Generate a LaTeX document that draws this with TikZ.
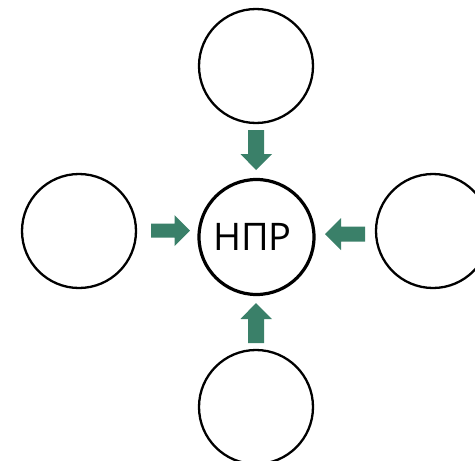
\documentclass[tikz,border=0pt]{standalone}
\usepackage{fontspec}
\setmainfont{Open Sans}
\definecolor{arrgreen}{HTML}{3A8069}
\begin{document}
\begin{tikzpicture}[x=1pt,y=-1pt,
  outer/.style={circle,draw=black,line width=2.3pt,minimum size=114pt,inner sep=0pt},
  centre/.style={circle,draw=black,line width=3.2pt,minimum size=115pt,inner sep=0pt},
  blockarr/.style={fill=arrgreen}]
\useasboundingbox (0,0) rectangle (475,461);
\node[outer] (top) at (256,66) {};
\node[outer] (left) at (79,231) {};
\node[outer] (right) at (433,231) {};
\node[outer] (bottom) at (256,407) {};
\node[centre] (npr) at (256.5,237) {};
\node[font=\fontsize{38}{38}\selectfont,inner sep=0pt] (lbl) at (252.5,237) {НПР};
% top arrow
\fill[blockarr] (248,130) -- (264,130) -- (264,154) -- (272,154) -- (256,170) -- (240.5,154) -- (248,154) -- cycle;
% bottom arrow
\fill[blockarr] (248,343) -- (264,343) -- (264,319) -- (272,319) -- (256,303) -- (240.5,319) -- (248,319) -- cycle;
% left arrow
\fill[blockarr] (151,223.5) -- (174.5,223.5) -- (174.5,215) -- (190,230.5) -- (174.5,246) -- (174.5,237.5) -- (151,237.5) -- cycle;
% right arrow
\fill[blockarr] (365,226.5) -- (341,226.5) -- (341,218) -- (325,234) -- (341,250) -- (341,241.5) -- (365,241.5) -- cycle;
\end{tikzpicture}
\end{document}
